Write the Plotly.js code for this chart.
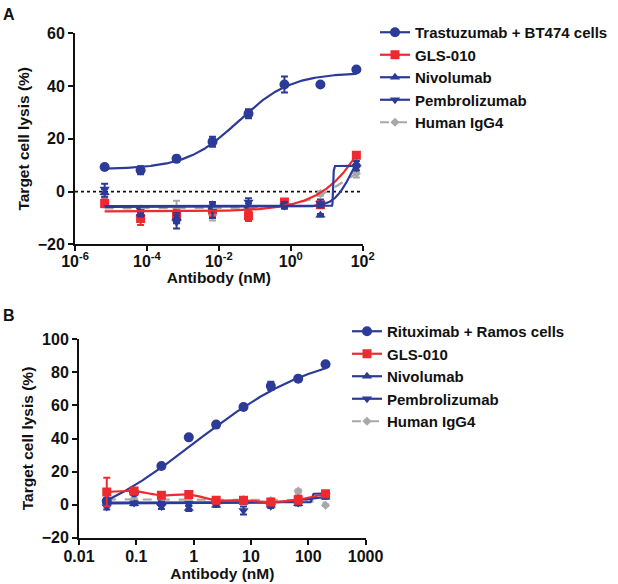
<!DOCTYPE html>
<html>
<head>
<meta charset="utf-8">
<script src="https://cdn.plot.ly/plotly-3.0.1.min.js"></script>
<style>html,body{margin:0;padding:0;background:#fff;}#chart{width:618px;height:584px;}</style>
</head>
<body>
<div id="chart"></div>
<script>
// ---------- Panel A data (BT474) ----------
const concA = [6.67e-6, 6.67e-5, 6.67e-4, 6.67e-3, 6.67e-2, 0.667, 6.67, 66.7];
const trastA = [9.3, 8.1, 12.4, 18.9, 29.5, 40.6, 40.6, 46.3];
const trastAErr = [0.6, 1.5, 1.2, 1.9, 1.7, 3.0, 0.5, 0.5];
const glsA = [-4.5, -10.2, -9.4, -7.0, -9.2, -4.0, -5.0, 13.8];
const glsAErr = [1.5, 2.5, 2.5, 2.5, 2.0, 1.0, 1.0, 1.0];
const nivoA = [-0.5, -8.5, -10.0, -5.0, -5.5, -5.0, -9.0, 10.6];
const nivoAErr = [1.5, 1.0, 2.0, 1.0, 1.0, 1.0, 0.5, 1.0];
const pembroA = [1.0, -7.0, -11.5, -7.0, -4.0, -5.5, -4.5, 9.0];
const pembroAErr = [2.0, 1.0, 2.5, 3.0, 1.5, 1.0, 1.5, 1.0];
const iggA = [-3.3, -6.5, -6.5, -9.0, -6.5, -5.0, -0.8, 6.8];
const iggAErr = [1.0, 1.0, 3.0, 2.0, 1.0, 1.0, 0.8, 1.5];
// fitted curve parameters [low plateau, high plateau, logEC50, Hill]
const fitTrastA = [8.5, 45, -1.45, 0.6];
const fitGlsA = [-7.5, 100, 2.92, 0.55];
const fitNivoA = [-5.8, 20, 1.686, 1.8];
const fitPembroA = [-5.5, 9.7, 1.18, 60];
const fitIggA = [-6.4, 14, 1.469, 0.75];

// ---------- Panel B data (Ramos) ----------
const concB = [0.0305, 0.0914, 0.274, 0.823, 2.47, 7.41, 22.2, 66.7, 200];
const rituxB = [2.2, 7.4, 23.4, 40.7, 48.4, 59.1, 71.8, 76.2, 84.9];
const rituxBErr = [1.0, 1.0, 0.8, 1.0, 0.8, 1.5, 2.5, 0.8, 0.8];
const glsB = [7.6, 8.2, 5.6, 6.2, 2.6, 2.6, 1.6, 3.0, 6.6];
const glsBErr = [8.6, 1.5, 1.5, 1.0, 1.5, 1.0, 1.5, 2.5, 1.0];
const nivoB = [1.5, 0.6, 1.0, -2.4, -0.4, 1.6, -0.4, 0.5, 4.5];
const nivoBErr = [1.0, 1.0, 1.0, 1.5, 1.0, 1.0, 1.0, 1.0, 1.0];
const pembroB = [-1.4, 1.0, -1.2, 0.5, 1.5, -3.5, -1.0, 1.0, 5.5];
const pembroBErr = [1.5, 1.0, 1.5, 1.0, 1.0, 2.4, 1.0, 1.0, 1.0];
const iggB = [3.0, 3.0, 3.0, 2.5, 2.5, 3.0, 2.5, 8.2, -0.4];
const iggBErr = [1.0, 1.0, 1.0, 1.0, 1.0, 1.0, 1.0, 1.0, 0.5];
const fitRituxB = [-20, 95, 0.02, 0.4];
const fitNivoB = [0.8, 6, 2.0, 1.5];
const fitPembroB = [1.2, 6.6, 2.06, 60];
const fitIggB = [3.2, -1, 2.3, 1.5];

const namesA = ['Trastuzumab + BT474 cells', 'GLS-010', 'Nivolumab', 'Pembrolizumab', 'Human IgG4'];
const namesB = ['Rituximab + Ramos cells', 'GLS-010', 'Nivolumab', 'Pembrolizumab', 'Human IgG4'];

const BLUE = '#2C3A98', RED = '#EE2A2F', GRAY = '#A8A8A8';
const FONT = 'Liberation Sans, Arial, sans-serif';

function fitCurve(conc, p) {
  const lo = Math.log10(conc[0]), hi = Math.log10(conc[conc.length - 1]);
  const n = 600, xs = [], ys = [];
  for (let i = 0; i <= n; i++) {
    const lx = lo + (hi - lo) * i / n;
    xs.push(Math.pow(10, lx));
    ys.push(p[0] + (p[1] - p[0]) / (1 + Math.pow(10, (p[2] - lx) * p[3])));
  }
  return {x: xs, y: ys};
}

const styles = [
  {color: BLUE, symbol: 'circle', size: 10, dash: 'solid'},
  {color: RED, symbol: 'square', size: 9, dash: 'solid'},
  {color: BLUE, symbol: 'triangle-up', size: 9, dash: 'solid'},
  {color: BLUE, symbol: 'triangle-down', size: 9, dash: 'solid'},
  {color: GRAY, symbol: 'diamond', size: 7, dash: 'dash'}
];

const traces = [];
function legendTraces(names, xa, ya, leg) {
  names.forEach((nm, i) => {
    const s = styles[i];
    traces.push({x: [null], y: [null], xaxis: xa, yaxis: ya, legend: leg, name: nm,
      mode: 'lines+markers', line: {color: s.color, width: 2.2, dash: s.dash},
      marker: {symbol: s.symbol, size: s.size, color: s.color}});
  });
}
function lineTrace(xy, i, xa, ya) {
  const s = styles[i];
  traces.push({x: xy.x, y: xy.y, xaxis: xa, yaxis: ya, mode: 'lines', showlegend: false,
    hoverinfo: 'skip', line: {color: s.color, width: 2.2, dash: s.dash}});
}
function pointTrace(x, y, e, i, xa, ya) {
  const s = styles[i];
  traces.push({x: x, y: y, xaxis: xa, yaxis: ya, mode: 'markers', showlegend: false,
    marker: {symbol: s.symbol, size: s.size, color: s.color},
    error_y: {type: 'data', array: e, visible: true, color: s.color, thickness: 2, width: 3.5}});
}

// Panel A
legendTraces(namesA, 'x', 'y', 'legend');
pointTrace(concA, iggA, iggAErr, 4, 'x', 'y');
pointTrace(concA, glsA, glsAErr, 1, 'x', 'y');
pointTrace(concA, nivoA, nivoAErr, 2, 'x', 'y');
pointTrace(concA, pembroA, pembroAErr, 3, 'x', 'y');
lineTrace(fitCurve(concA, fitIggA), 4, 'x', 'y');
lineTrace(fitCurve(concA, fitGlsA), 1, 'x', 'y');
lineTrace(fitCurve(concA, fitNivoA), 2, 'x', 'y');
lineTrace(fitCurve(concA, fitPembroA), 3, 'x', 'y');
pointTrace(concA, trastA, trastAErr, 0, 'x', 'y');
lineTrace(fitCurve(concA, fitTrastA), 0, 'x', 'y');

// Panel B
legendTraces(namesB, 'x2', 'y2', 'legend2');
pointTrace(concB, iggB, iggBErr, 4, 'x2', 'y2');
pointTrace(concB, nivoB, nivoBErr, 2, 'x2', 'y2');
pointTrace(concB, pembroB, pembroBErr, 3, 'x2', 'y2');
lineTrace(fitCurve(concB, fitIggB), 4, 'x2', 'y2');
lineTrace(fitCurve(concB, fitNivoB), 2, 'x2', 'y2');
lineTrace(fitCurve(concB, fitPembroB), 3, 'x2', 'y2');
pointTrace(concB, rituxB, rituxBErr, 0, 'x2', 'y2');
lineTrace(fitCurve(concB, fitRituxB), 0, 'x2', 'y2');
pointTrace(concB, glsB, glsBErr, 1, 'x2', 'y2');
traces.push({x: concB, y: glsB, xaxis: 'x2', yaxis: 'y2', mode: 'lines', showlegend: false,
  hoverinfo: 'skip', line: {color: RED, width: 2.2, shape: 'spline', smoothing: 0.6}});

const tickFont = {family: FONT, size: 16, color: '#111', weight: 'bold'};
const titleFont = {family: FONT, size: 15.5, color: '#111', weight: 'bold'};
const legFont = {family: FONT, size: 15, color: '#111', weight: 'bold'};
const axisCommon = {showline: true, linecolor: '#111', linewidth: 2, ticks: 'outside', ticklen: 5,
  tickwidth: 2, tickcolor: '#111', showgrid: false, zeroline: false, tickfont: tickFont};

const W = 618, H = 584;
const layout = {
  width: W, height: H, margin: {l: 0, r: 0, t: 0, b: 0},
  paper_bgcolor: '#fff', plot_bgcolor: 'rgba(0,0,0,0)',
  showlegend: true,
  xaxis: Object.assign({}, axisCommon, {type: 'log', range: [-6, 2], domain: [75 / W, 362.7 / W],
    anchor: 'y', tickvals: [1e-6, 1e-4, 1e-2, 1, 100], ticklabelstandoff: -4,
    ticktext: ['10<sup>-6</sup>', '10<sup>-4</sup>', '10<sup>-2</sup>', '10<sup>0</sup>', '10<sup>2</sup>'],
    title: {text: 'Antibody (nM)', font: titleFont, standoff: 4}}),
  yaxis: Object.assign({}, axisCommon, {range: [-20, 60], dtick: 20, domain: [1 - 244.3 / H, 1 - 33.3 / H],
    anchor: 'x', title: {text: 'Target cell lysis (%)', font: titleFont, standoff: 4}}),
  xaxis2: Object.assign({}, axisCommon, {type: 'log', range: [-2, 3], domain: [79 / W, 365.6 / W],
    anchor: 'y2', tickvals: [0.01, 0.1, 1, 10, 100, 1000], ticklabelstandoff: -2,
    ticktext: ['0.01', '0.1', '1', '10', '100', '1000'],
    title: {text: 'Antibody (nM)', font: titleFont, standoff: 4}}),
  yaxis2: Object.assign({}, axisCommon, {range: [-20, 100], dtick: 20, domain: [1 - 537.7 / H, 1 - 339.3 / H],
    anchor: 'x2', title: {text: 'Target cell lysis (%)', font: titleFont, standoff: 4}}),
  legend: {x: 375 / W, y: 1 - 16 / H, xanchor: 'left', yanchor: 'top', bgcolor: 'rgba(0,0,0,0)',
    font: legFont, tracegroupgap: 0},
  legend2: {x: 347 / W, y: 1 - 315 / H, xanchor: 'left', yanchor: 'top', bgcolor: 'rgba(0,0,0,0)',
    font: legFont, tracegroupgap: 0},
  shapes: [{type: 'line', xref: 'x domain', yref: 'y', x0: 0, x1: 1, y0: 0, y1: 0,
    line: {color: '#111', width: 1.8, dash: 'dot'}, layer: 'below'}],
  annotations: [
    {text: 'A', xref: 'paper', yref: 'paper', x: 1 / W, y: 1 - 4 / H, xanchor: 'left', yanchor: 'top',
      showarrow: false, font: {family: FONT, size: 16, color: '#111', weight: 'bold'}},
    {text: 'B', xref: 'paper', yref: 'paper', x: 1 / W, y: 1 - 305 / H, xanchor: 'left', yanchor: 'top',
      showarrow: false, font: {family: FONT, size: 16, color: '#111', weight: 'bold'}}
  ]
};

Plotly.newPlot('chart', traces, layout, {displayModeBar: false, staticPlot: true});
</script>
</body>
</html>
